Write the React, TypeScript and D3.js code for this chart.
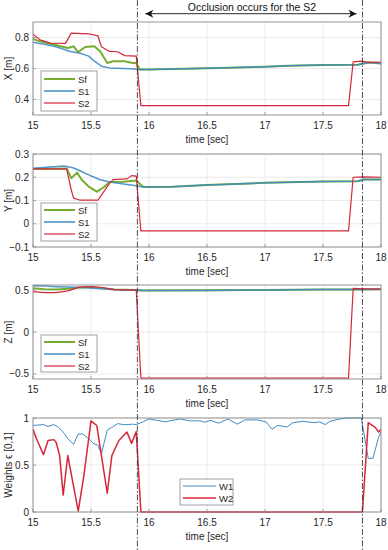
import React from "react";
import * as d3 from "d3";

type P = [number, number];

const xTicks = [15, 15.5, 16, 16.5, 17, 17.5, 18];
const occlusionStart = 15.9;
const occlusionEnd = 17.84;
const occlusionText = "Occlusion occurs for the S2";

const xSf: P[] = [[15,0.79],[15.06,0.775],[15.15,0.76],[15.3,0.732],[15.35,0.743],[15.39,0.706],[15.45,0.739],[15.53,0.743],[15.58,0.71],[15.64,0.636],[15.69,0.647],[15.79,0.647],[15.86,0.636],[15.89,0.636],[15.92,0.594],[16.0,0.594],[16.3,0.598],[16.6,0.603],[17.0,0.612],[17.2,0.617],[17.5,0.622],[17.8,0.624],[17.85,0.632],[17.9,0.638],[18,0.632]];
const xS1: P[] = [[15,0.77],[15.1,0.757],[15.2,0.74],[15.32,0.71],[15.4,0.7],[15.48,0.68],[15.53,0.647],[15.59,0.615],[15.66,0.604],[15.84,0.598],[15.92,0.593],[16.0,0.594],[16.3,0.598],[16.6,0.603],[17.0,0.612],[17.2,0.617],[17.5,0.622],[17.8,0.624],[17.85,0.632],[17.9,0.638],[18,0.632]];
const xS2: P[] = [[15,0.822],[15.06,0.785],[15.15,0.764],[15.28,0.762],[15.33,0.828],[15.48,0.824],[15.56,0.81],[15.59,0.74],[15.66,0.71],[15.73,0.708],[15.79,0.683],[15.89,0.68],[15.93,0.36],[17.72,0.36],[17.76,0.643],[17.83,0.648],[17.9,0.64],[17.95,0.642],[18,0.64]];

const ySf: P[] = [[15,0.236],[15.29,0.238],[15.33,0.196],[15.38,0.22],[15.42,0.189],[15.48,0.16],[15.55,0.138],[15.61,0.157],[15.66,0.18],[15.78,0.181],[15.89,0.186],[15.95,0.158],[16.2,0.159],[16.5,0.167],[17.0,0.176],[17.5,0.182],[17.8,0.183],[17.85,0.19],[18,0.19]];
const yS1: P[] = [[15,0.239],[15.27,0.248],[15.35,0.24],[15.4,0.229],[15.48,0.21],[15.58,0.189],[15.66,0.18],[15.78,0.171],[15.89,0.163],[15.95,0.158],[16.2,0.159],[16.5,0.167],[17.0,0.176],[17.5,0.182],[17.8,0.183],[17.85,0.19],[18,0.19]];
const yS2: P[] = [[15,0.236],[15.29,0.236],[15.33,0.145],[15.35,0.11],[15.4,0.102],[15.56,0.102],[15.66,0.174],[15.69,0.19],[15.81,0.193],[15.85,0.207],[15.89,0.205],[15.93,-0.031],[17.72,-0.031],[17.76,0.2],[17.85,0.202],[18,0.2]];

const zSf: P[] = [[15,0.52],[15.1,0.51],[15.2,0.505],[15.3,0.515],[15.4,0.53],[15.5,0.535],[15.6,0.52],[15.7,0.505],[15.89,0.5],[15.95,0.495],[16.5,0.497],[17.0,0.5],[17.5,0.505],[17.8,0.507],[18,0.51]];
const zS1: P[] = [[15,0.55],[15.1,0.548],[15.2,0.54],[15.3,0.535],[15.4,0.53],[15.5,0.525],[15.6,0.515],[15.7,0.505],[15.89,0.498],[15.95,0.493],[16.5,0.495],[17.0,0.5],[17.5,0.505],[17.8,0.507],[18,0.51]];
const zS2: P[] = [[15,0.48],[15.1,0.47],[15.2,0.47],[15.3,0.49],[15.4,0.535],[15.5,0.54],[15.6,0.53],[15.7,0.505],[15.89,0.5],[15.93,-0.55],[17.72,-0.55],[17.76,0.52],[17.85,0.515],[18,0.51]];

const w1: P[] = [[15,0.92],[15.04,0.925],[15.09,0.93],[15.13,0.91],[15.18,0.93],[15.22,0.9],[15.26,0.85],[15.3,0.78],[15.35,0.72],[15.39,0.83],[15.43,0.83],[15.48,0.78],[15.52,0.73],[15.56,0.71],[15.59,0.62],[15.64,0.87],[15.68,0.9],[15.73,0.94],[15.78,0.93],[15.82,0.93],[15.86,0.935],[15.89,0.93],[15.95,0.96],[16.0,0.99],[16.07,0.975],[16.14,0.96],[16.2,0.975],[16.27,0.99],[16.35,0.97],[16.44,0.97],[16.48,0.955],[16.53,0.975],[16.6,0.945],[16.68,0.99],[16.76,0.935],[16.83,0.98],[16.94,0.98],[17.01,0.958],[17.06,0.88],[17.11,0.922],[17.19,0.904],[17.24,0.95],[17.33,0.965],[17.42,0.95],[17.47,0.958],[17.52,0.93],[17.56,0.965],[17.63,0.986],[17.7,1.0],[17.83,1.0],[17.89,0.57],[17.93,0.57],[17.98,0.8],[18,0.85]];
const w2: P[] = [[15,0.88],[15.03,0.78],[15.09,0.61],[15.13,0.76],[15.18,0.77],[15.2,0.74],[15.23,0.6],[15.26,0.18],[15.3,0.6],[15.39,0.01],[15.44,0.4],[15.5,0.97],[15.55,0.92],[15.64,0.2],[15.68,0.6],[15.74,0.76],[15.81,0.85],[15.85,0.73],[15.89,0.855],[15.93,0],[17.84,0],[17.89,0.95],[17.95,0.9],[17.98,0.85],[18,0.88]];

const GREEN = "#77ac30";
const BLUE = "#3d8cc4";
const RED = "#d4283a";
const FONT = "'Liberation Sans', Arial, Helvetica, sans-serif";

type Series = { name: string; data: P[]; color: string; width: number; opacity?: number };
type Panel = {
  top: number; bottom: number; domain: [number, number]; ticks: number[];
  tickFmt: (v: number) => string; ylabel: string; series: Series[];
  legend: { x: number; y: number; w: number; h: number; lineLen: number; rows: number[] };
};

const tripleSeries = (a: P[], b: P[], c: P[]): Series[] => [
  { name: "Sf", data: a, color: GREEN, width: 2 },
  { name: "S1", data: b, color: BLUE, width: 1.5, opacity: 0.9 },
  { name: "S2", data: c, color: RED, width: 1.2 },
];

const panels: Panel[] = [
  { top: 22, bottom: 115, domain: [0.3, 0.9], ticks: [0.4, 0.6, 0.8], tickFmt: (v) => d3.format(".1f")(v), ylabel: "X [m]", series: tripleSeries(xSf, xS1, xS2), legend: { x: 41, y: 71, w: 56, h: 40, lineLen: 31, rows: [8, 20, 32] } },
  { top: 154, bottom: 247, domain: [-0.1, 0.3], ticks: [-0.1, 0, 0.1, 0.2, 0.3], tickFmt: (v) => (v === 0 ? "0" : d3.format(".1f")(v)), ylabel: "Y [m]", series: tripleSeries(ySf, yS1, yS2), legend: { x: 41, y: 203, w: 56, h: 38, lineLen: 31, rows: [7, 19, 31] } },
  { top: 285, bottom: 379, domain: [-0.56, 0.56], ticks: [-0.5, 0, 0.5], tickFmt: (v) => (v === 0 ? "0" : d3.format(".1f")(v)), ylabel: "Z [m]", series: tripleSeries(zSf, zS1, zS2), legend: { x: 41, y: 335, w: 56, h: 37, lineLen: 31, rows: [7, 19, 31] } },
  { top: 418, bottom: 512, domain: [0, 1], ticks: [0, 0.5, 1], tickFmt: (v) => String(v), ylabel: "Weights \u03f5 [0,1]", series: [
    { name: "W1", data: w1, color: BLUE, width: 1 },
    { name: "W2", data: w2, color: RED, width: 1.5 },
  ], legend: { x: 180, y: 479, w: 53, h: 26, lineLen: 33, rows: [7, 19] } },
];

const LEFT = 33;
const RIGHT = 381;

export default function App() {
  const x = d3.scaleLinear().domain([15, 18]).range([LEFT, RIGHT]);
  const xs = x(occlusionStart);
  const xe = x(occlusionEnd);
  return (
    <svg width={388} height={550} style={{ position: "absolute", left: 0, top: 0, background: "#fff" }} fontFamily={FONT}>
      <rect x={0} y={0} width={388} height={550} fill="#fff" />
      {panels.map((p, i) => {
        const y = d3.scaleLinear().domain(p.domain).range([p.bottom, p.top]);
        const line = d3.line<P>().x((d) => x(d[0])).y((d) => y(d[1]));
        const clipId = `clip${i}`;
        return (
          <g key={i}>
            <defs>
              <clipPath id={clipId}>
                <rect x={LEFT} y={p.top - 1} width={RIGHT - LEFT} height={p.bottom - p.top + 2} />
              </clipPath>
            </defs>
            <rect x={LEFT} y={p.top} width={RIGHT - LEFT} height={p.bottom - p.top} fill="#fff" />
            {xTicks.map((t) => (
              <line key={"gx" + t} x1={x(t)} x2={x(t)} y1={p.top} y2={p.bottom} stroke="#e6e6e6" strokeWidth={0.8} />
            ))}
            {p.ticks.map((t) => (
              <line key={"gy" + t} x1={LEFT} x2={RIGHT} y1={y(t)} y2={y(t)} stroke="#e6e6e6" strokeWidth={0.8} />
            ))}
            <g clipPath={`url(#${clipId})`}>
              {p.series.map((s) => (
                <path key={s.name} d={line(s.data) || ""} fill="none" stroke={s.color} strokeOpacity={s.opacity ?? 1} strokeWidth={s.width} strokeLinejoin="round" />
              ))}
            </g>
            <rect x={LEFT} y={p.top} width={RIGHT - LEFT} height={p.bottom - p.top} fill="none" stroke="#8a8a8a" strokeWidth={0.9} />
            {xTicks.map((t) => (
              <g key={"tx" + t}>
                <line x1={x(t)} x2={x(t)} y1={p.bottom} y2={p.bottom - 3} stroke="#8a8a8a" strokeWidth={0.8} />
                <text x={x(t)} y={p.bottom + 14} textAnchor="middle" fontSize={10} fill="#262626">{String(t)}</text>
              </g>
            ))}
            {p.ticks.map((t) => (
              <g key={"ty" + t}>
                <line x1={LEFT} x2={LEFT + 3} y1={y(t)} y2={y(t)} stroke="#8a8a8a" strokeWidth={0.8} />
                <text x={LEFT - 4} y={y(t) + 3.5} textAnchor="end" fontSize={10} fill="#262626">{p.tickFmt(t)}</text>
              </g>
            ))}
            <text x={(LEFT + RIGHT) / 2} y={p.bottom + 28} textAnchor="middle" fontSize={10} fill="#262626">time [sec]</text>
            <text transform={`translate(12,${(p.top + p.bottom) / 2}) rotate(-90)`} textAnchor="middle" fontSize={10} fill="#262626">{p.ylabel}</text>
            <g>
              <rect x={p.legend.x} y={p.legend.y} width={p.legend.w} height={p.legend.h} fill="#fff" stroke="#8a8a8a" strokeWidth={0.8} />
              {p.series.map((s, k) => (
                <g key={"lg" + s.name}>
                  <line x1={p.legend.x + 3} x2={p.legend.x + 3 + p.legend.lineLen} y1={p.legend.y + p.legend.rows[k]} y2={p.legend.y + p.legend.rows[k]} stroke={s.color} strokeWidth={Math.min(s.width, 2)} />
                  <text x={p.legend.x + 6 + p.legend.lineLen} y={p.legend.y + p.legend.rows[k] + 3.5} fontSize={9.5} fill="#262626">{s.name}</text>
                </g>
              ))}
            </g>
          </g>
        );
      })}
      {[xs, xe].map((xv, i) => (
        <line key={"occ" + i} x1={xv} x2={xv} y1={0} y2={550} stroke="#3a3a3a" strokeWidth={0.9} strokeDasharray="6,2,1.5,2" />
      ))}
      <defs>
        <marker id="ah" viewBox="0 0 10 10" refX={10} refY={5} markerWidth={10} markerHeight={8} orient="auto-start-reverse" markerUnits="userSpaceOnUse">
          <path d="M0,0 L10,5 L0,10 L3,5 Z" fill="#111" />
        </marker>
      </defs>
      <line x1={xs + 8} x2={xe - 6} y1={13.7} y2={13.7} stroke="#111" strokeWidth={0.9} markerStart="url(#ah)" markerEnd="url(#ah)" />
      <text x={(xs + xe) / 2 + 2} y={11} textAnchor="middle" fontSize={10.5} fill="#111">{occlusionText}</text>
    </svg>
  );
}
